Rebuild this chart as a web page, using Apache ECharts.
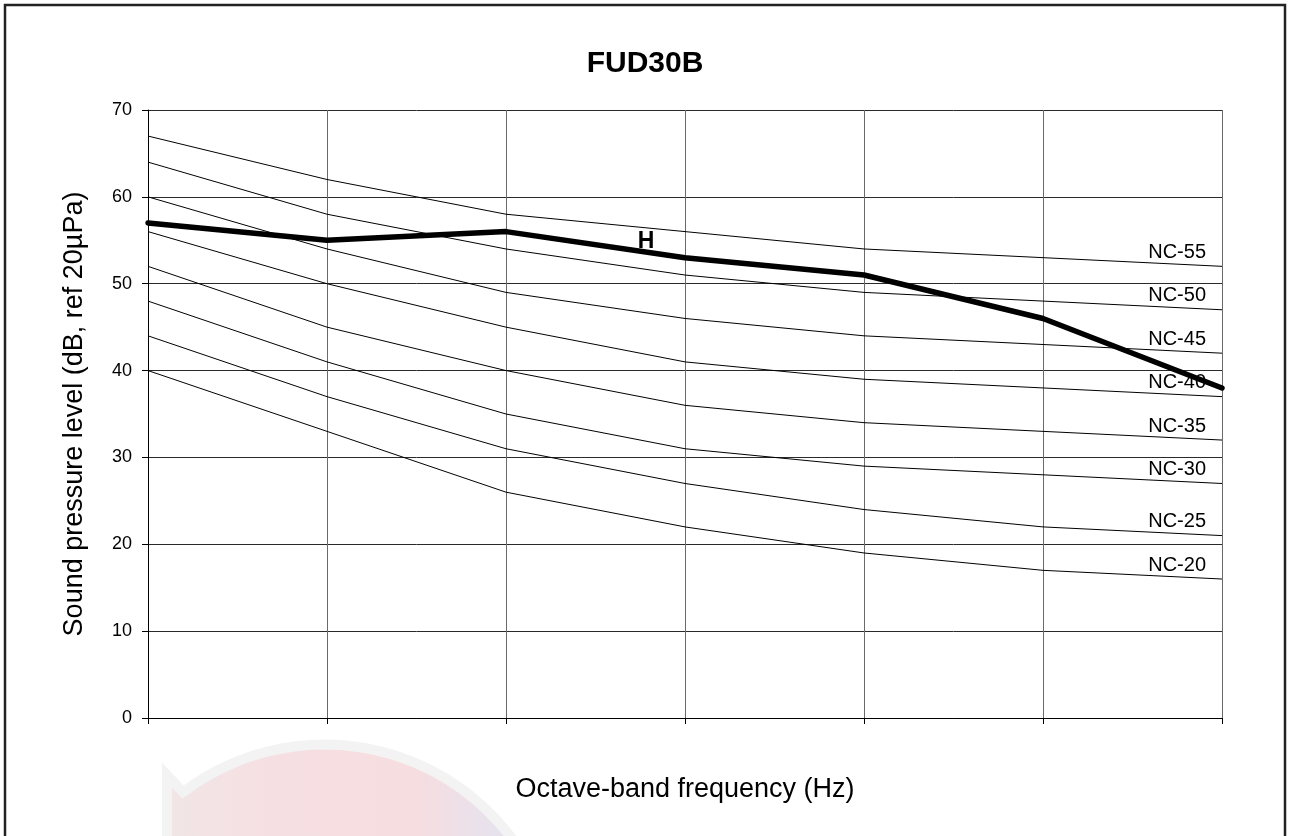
<!DOCTYPE html>
<html>
<head>
<meta charset="utf-8">
<script src="https://cdn.jsdelivr.net/npm/echarts@6/dist/echarts.min.js"></script>
<style>
html,body{margin:0;padding:0;background:#fff;}
#chart{width:1290px;height:836px;}
</style>
</head>
<body>
<div id="chart"></div>
<script>
// Octave-band centre frequencies (Hz) – not labelled on the reference axis
const frequencies = ['125', '250', '500', '1000', '2000', '4000', '8000'];
const yTicks = [0, 10, 20, 30, 40, 50, 60, 70];

// NC reference curves (dB)
const nc20 = [40, 33, 26, 22, 19, 17, 16];
const nc25 = [44, 37, 31, 27, 24, 22, 21];
const nc30 = [48, 41, 35, 31, 29, 28, 27];
const nc35 = [52, 45, 40, 36, 34, 33, 32];
const nc40 = [56, 50, 45, 41, 39, 38, 37];
const nc45 = [60, 54, 49, 46, 44, 43, 42];
const nc50 = [64, 58, 54, 51, 49, 48, 47];
const nc55 = [67, 62, 58, 56, 54, 53, 52];
// FUD30B measured spectrum, setting H
const fudH = [57, 55, 56, 53, 51, 46, 38];

const ncNames = ['NC-20', 'NC-25', 'NC-30', 'NC-35', 'NC-40', 'NC-45', 'NC-50', 'NC-55'];
const ncData = [nc20, nc25, nc30, nc35, nc40, nc45, nc50, nc55];

const FONT = 'Liberation Sans, Arial, Helvetica, sans-serif';

// Outline of the faint background logo (decoration only)
function logoOutline() {
  const cx = 324.4, cy = 978.6, r = 234;
  const a0 = Math.atan2(792 - cy, 183 - cx);
  const a1 = Math.atan2(850 - cy, 521 - cx);
  let start = a0, end = a1;
  if (end < start) end += Math.PI * 2;
  const pts = [[167, 850], [167, 775], [183, 792]];
  const n = 60;
  for (let i = 1; i <= n; i++) {
    const a = start + (end - start) * i / n;
    pts.push([cx + r * Math.cos(a), cy + r * Math.sin(a)]);
  }
  return pts;
}

const chart = echarts.init(document.getElementById('chart'), null, {renderer: 'canvas'});

const series = ncData.map((d, i) => ({
  name: ncNames[i],
  type: 'line',
  data: d,
  symbol: 'none',
  silent: true,
  lineStyle: {color: '#000', width: 1},
  endLabel: {
    show: true,
    formatter: ncNames[i],
    fontFamily: FONT,
    fontSize: 20,
    color: '#000',
    align: 'right',
    verticalAlign: 'middle',
    distance: 0,
    offset: [-16, -14]
  },
  z: 3
}));

series.push({
  name: 'H',
  type: 'line',
  data: fudH,
  symbol: 'none',
  silent: true,
  lineStyle: {color: '#000', width: 5.5, cap: 'round', join: 'round'},
  z: 4
});

const option = {
  animation: false,
  backgroundColor: '#fff',
  textStyle: {fontFamily: FONT},
  title: {
    text: 'FUD30B',
    left: 'center',
    top: 44,
    textStyle: {fontFamily: FONT, fontSize: 30, fontWeight: 'bold', color: '#000'}
  },
  grid: {left: 148, right: 68, top: 110, bottom: 118, containLabel: false},
  xAxis: {
    type: 'category',
    data: frequencies,
    boundaryGap: false,
    name: 'Octave-band frequency (Hz)',
    nameLocation: 'middle',
    nameGap: 58,
    nameTextStyle: {fontFamily: FONT, fontSize: 27, color: '#000'},
    axisLine: {show: true, lineStyle: {color: '#000', width: 1}},
    axisTick: {show: true, length: 6, lineStyle: {color: '#000'}},
    axisLabel: {show: false},
    splitLine: {show: true, lineStyle: {color: '#6a6a6a', width: 1}}
  },
  yAxis: {
    type: 'value',
    min: yTicks[0],
    max: yTicks[yTicks.length - 1],
    interval: yTicks[1] - yTicks[0],
    name: 'Sound pressure level (dB, ref 20µPa)',
    nameLocation: 'middle',
    nameGap: 60,
    nameRotate: 90,
    nameTextStyle: {fontFamily: FONT, fontSize: 27, color: '#000'},
    axisLine: {show: true, lineStyle: {color: '#000', width: 1}},
    axisTick: {show: true, length: 6, lineStyle: {color: '#000'}},
    axisLabel: {fontFamily: FONT, fontSize: 18, color: '#000', margin: 16},
    splitLine: {show: true, lineStyle: {color: '#2a2a2a', width: 1}}
  },
  graphic: [
    {
      type: 'polygon',
      z: -10,
      silent: true,
      shape: {points: logoOutline()},
      style: {
        fill: new echarts.graphic.LinearGradient(0, 0, 1, 0, [
          {offset: 0, color: '#f1e6e7'},
          {offset: 0.3, color: '#f6dfe2'},
          {offset: 0.7, color: '#f6dde0'},
          {offset: 0.86, color: '#ebe1ea'},
          {offset: 1, color: '#e2e4ef'}
        ]),
        stroke: '#f3f3f3',
        lineWidth: 10,
        lineJoin: 'miter'
      }
    },
    {
      type: 'text',
      z: 10,
      silent: true,
      x: 646,
      y: 242,
      style: {
        text: 'H',
        fontFamily: FONT,
        fontSize: 23,
        fontWeight: 'bold',
        fill: '#000',
        align: 'center',
        verticalAlign: 'middle'
      }
    },
    {
      type: 'rect',
      z: 20,
      silent: true,
      shape: {x: 5, y: 5, width: 1280, height: 900},
      style: {fill: 'none', stroke: '#222', lineWidth: 2.5}
    }
  ],
  series: series
};

chart.setOption(option);
</script>
</body>
</html>
